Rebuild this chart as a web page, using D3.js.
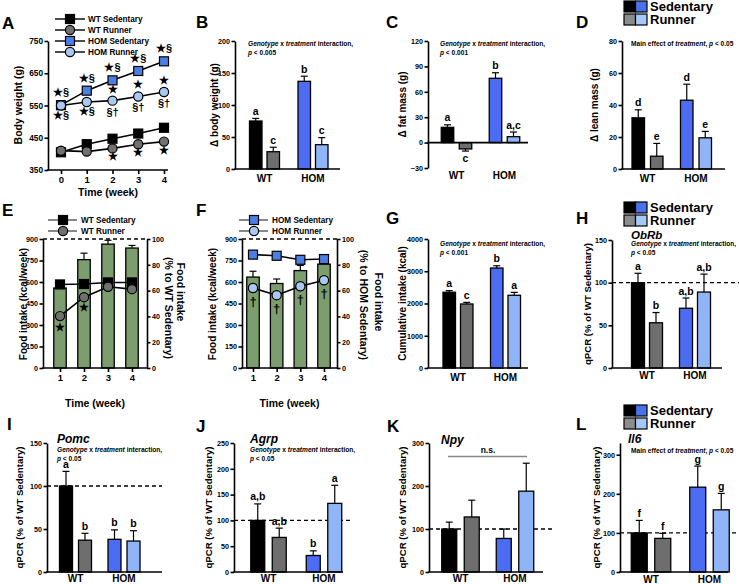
<!DOCTYPE html>
<html><head><meta charset="utf-8">
<script src="https://cdn.jsdelivr.net/npm/d3@7"></script>
<style>
body{margin:0;background:#fff}
svg{display:block;font-family:"Liberation Sans",Arial,Helvetica,sans-serif;font-weight:bold}
</style></head><body>
<svg id="c" width="739" height="584"></svg>
<script>
// ---------------- DATA ----------------
const weeksA = [0,1,2,3,4];
const bwWTSed  = [405,430,447,463,481];
const bwWTRun  = [410,407,417,430,438];
const bwHOMSed = [551,596,628,657,687];
const bwHOMRun = [550,561,565,578,592];
const bwHOMRunErr = [6,9,9,9,10];
const seriesNamesA = ["WT Sedentary","WT Runner","HOM Sedentary","HOM Runner"];

const groups = ["WT","HOM"];
const treatments = ["Sedentary","Runner"];

const dBodyWeight = [75,27,137,38];   const dBodyWeightErr = [4,7,8,11];
const dBodyWeightLetters = ["a","c","b","c"];
const dFatMass = [18,-7.5,76,7];      const dFatMassErr = [3,2.5,6.5,5.5];
const dFatMassLetters = ["a","c","b","a,c"];
const dLeanMass = [32,8,43,19.5];     const dLeanMassErr = [5,8,10,4];
const dLeanMassLetters = ["d","e","d","e"];

const weeksE = ["1","2","3","4"];
const fiWTPct = [62,84,96,93];        const fiWTPctErr = [1,5,3,2];
const fiWTSed = [583,586,597,597];
const fiWTRun = [362,494,567,550];    const fiWTRunErr = [12,12,8,8];
const fiHOMPct = [70.5,65.5,75.5,80.5]; const fiHOMPctErr = [4.5,3.5,4,1];
const fiHOMSed = [791,783,755,760];
const fiHOMRun = [558,508,570,612];   const fiHOMRunErr = [25,20,22,22];

const cumIntake = [2350,1985,3100,2255]; const cumIntakeErr = [50,50,70,90];
const cumIntakeLetters = ["a","c","b","a"];
const qObRb = [100,53,70,89];  const qObRbErr = [11,12,12,21];
const qObRbLetters = ["a","b","a,b","a,b"];
const qPomc = [100,37,38,36];  const qPomcErr = [17,8,11,12];
const qPomcLetters = ["a","b","b","b"];
const qAgrp = [100,67,32,133]; const qAgrpErr = [32,18,9,35];
const qAgrpLetters = ["a,b","a,b","b","a"];
const qNpy = [100,128,78,188]; const qNpyErr = [16,39,22,65];
const qIl6 = [100,86,217,159]; const qIl6Err = [32,13,54,42];
const qIl6Letters = ["f","f","g","g"];

// ---------------- STYLE ----------------
const COL = {grey:"#6e6e6e", blue:"#4c6cf3", lblue:"#8fb5f7", green:"#7c9e6e",
  legGrey:"#8c8c8c", legBlue:"#4a72e8", legLBlue:"#a6c8f7",
  aGrey:"#707070", aBlue:"#4d7ee6", aLBlue:"#a9c9f2"};
const barFill = ["#000", COL.grey, COL.blue, COL.lblue];

const svg = d3.select("#c");

function T(x,y,s,size,anchor,opt){
  opt = opt||{};
  const t = svg.append("text").attr("x",x).attr("y",y).attr("font-size",size)
    .attr("text-anchor",anchor||"middle").attr("fill",opt.fill||"#000");
  if(opt.rot!=null) t.attr("transform",`rotate(${opt.rot},${x},${y})`);
  if(opt.italic) t.attr("font-style","italic");
  if(opt.db) t.attr("dominant-baseline",opt.db);
  t.text(s);
  return t;
}
function panelLetter(x,y,s){ T(x,y,s,17,"start"); }
function note(x,y,lines){
  lines.forEach((ln,i)=>{
    const t = svg.append("text").attr("x",x).attr("y",y+i*9).attr("font-size",6.6).attr("text-anchor","start");
    ln.forEach(p=>{ t.append("tspan").attr("font-style",p[1]?"italic":"normal").text(p[0]); });
  });
}
function styleAxis(g,fs){
  g.attr("font-family",null).attr("font-size",null);
  g.selectAll("path,line").attr("stroke","#000").attr("stroke-width",1.6);
  g.selectAll("text").attr("font-size",fs||7.2).attr("font-weight","bold").attr("fill","#000");
}
function yAxisLeft(x,y,ticks,fs){
  const g = svg.append("g").attr("transform",`translate(${x},0)`)
    .call(d3.axisLeft(y).tickValues(ticks).tickFormat(d3.format("d")).tickSize(3.5).tickSizeOuter(0).tickPadding(1.5));
  styleAxis(g,fs); return g;
}
function hline(x1,x2,y,opt){
  opt=opt||{};
  const l = svg.append("line").attr("x1",x1).attr("x2",x2).attr("y1",y).attr("y2",y)
    .attr("stroke",opt.stroke||"#000").attr("stroke-width",opt.w||1.6);
  if(opt.dash) l.attr("stroke-dasharray",opt.dash);
  return l;
}
function legendSwatch(x,y){
  const rows=[["#000",COL.legBlue,"Sedentary"],[COL.legGrey,COL.legLBlue,"Runner"]];
  rows.forEach((r,i)=>{
    const yy=y+i*13;
    svg.append("rect").attr("x",x).attr("y",yy).attr("width",11.5).attr("height",11).attr("fill",r[0]).attr("stroke","#000").attr("stroke-width",1.2);
    svg.append("rect").attr("x",x+11.5).attr("y",yy).attr("width",11.5).attr("height",11).attr("fill",r[1]).attr("stroke","#000").attr("stroke-width",1.2);
    T(x+26,yy+10,r[2],13,"start");
  });
}
function marker(cx,cy,shape,fill){
  if(shape==="sq") svg.append("rect").attr("x",cx-4.5).attr("y",cy-4.5).attr("width",9).attr("height",9).attr("fill",fill).attr("stroke","#000").attr("stroke-width",1.2);
  else svg.append("circle").attr("cx",cx).attr("cy",cy).attr("r",4.6).attr("fill",fill).attr("stroke","#000").attr("stroke-width",1.2);
}

function barPanel(cfg){
  const y = d3.scaleLinear().domain(cfg.dom).range(cfg.range);
  const x0 = d3.scaleBand().domain(groups).range(cfg.gRange).padding(0);
  const bw = x0.bandwidth();
  const x1 = d3.scaleBand().domain(treatments)
    .range([bw/2-(cfg.d+cfg.barW)/2, bw/2+(cfg.d+cfg.barW)/2])
    .paddingInner(1-cfg.barW/cfg.d).paddingOuter(0);
  const rows=[];
  groups.forEach((g,gi)=>treatments.forEach((t,ti)=>{
    const i=gi*2+ti;
    rows.push({g,t,i,v:cfg.vals[i],e:cfg.errs?cfg.errs[i]:0,l:cfg.letters?cfg.letters[i]:null});
  }));
  const base = y(0);
  if(cfg.dash!=null) hline(cfg.axisX,cfg.dashEnd,y(cfg.dash),{dash:"4,3",w:1.3});
  rows.forEach(r=>{
    const xl = x0(r.g)+x1(r.t), cx = xl+x1.bandwidth()/2;
    const yv = y(r.v);
    svg.append("rect").attr("x",xl).attr("y",Math.min(yv,base)).attr("width",x1.bandwidth())
      .attr("height",Math.abs(base-yv)).attr("fill",barFill[r.i]).attr("stroke","#000").attr("stroke-width",1.3);
    const sgn = r.v>=0?1:-1;
    const ye = y(r.v+sgn*r.e);
    svg.append("line").attr("x1",cx).attr("x2",cx).attr("y1",yv).attr("y2",ye).attr("stroke","#000").attr("stroke-width",1.2);
    svg.append("line").attr("x1",cx-3.5).attr("x2",cx+3.5).attr("y1",ye).attr("y2",ye).attr("stroke","#000").attr("stroke-width",1.2);
    if(r.l){
      if(sgn>0) T(cx,ye-3.5,r.l,10.5,"middle");
      else T(cx,ye+11,r.l,10.5,"middle");
    }
  });
  yAxisLeft(cfg.axisX,y,cfg.ticks);
  hline(cfg.axisX-0.8,cfg.axisEnd,base);
  groups.forEach(g=>T(x0(g)+bw/2,cfg.labY,g,10,"middle"));
  T(cfg.titleX,(cfg.range[0]+cfg.range[1])/2,cfg.yTitle,cfg.titleSize||10,"middle",{rot:-90,db:"middle"});
  return {y,x0,x1};
}

// ---------------- PANEL A ----------------
(function(){
  const x = d3.scaleLinear().domain([0,4]).range([61,164]);
  const y = d3.scaleLinear().domain([350,750]).range([170,41]);
  yAxisLeft(48,y,[350,450,550,650,750],8.3);
  const gx = svg.append("g").attr("transform","translate(0,170)")
    .call(d3.axisBottom(x).tickValues(weeksA).tickFormat(d3.format("d")).tickSize(4).tickSizeOuter(0).tickPadding(2));
  styleAxis(gx,9.5); gx.select(".domain").remove();
  hline(47.2,168,170);
  T(108,196,"Time (week)",10.5,"middle");
  T(19,105,"Body weight (g)",10.5,"middle",{rot:-90,db:"middle"});
  const line = d3.line().x((d,i)=>x(weeksA[i])).y(d=>y(d));
  const series = [
    {v:bwWTSed,shape:"sq",fill:"#000"},
    {v:bwWTRun,shape:"ci",fill:COL.aGrey},
    {v:bwHOMSed,shape:"sq",fill:COL.aBlue},
    {v:bwHOMRun,shape:"ci",fill:COL.aLBlue,err:bwHOMRunErr}
  ];
  series.forEach(s=>svg.append("path").attr("d",line(s.v)).attr("fill","none").attr("stroke","#000").attr("stroke-width",1.6));
  series.forEach(s=>{
    s.v.forEach((v,i)=>{
      const cx=x(weeksA[i]), cy=y(v);
      if(s.err){
        svg.append("line").attr("x1",cx).attr("x2",cx).attr("y1",y(v-s.err[i])).attr("y2",y(v+s.err[i])).attr("stroke","#000").attr("stroke-width",1.2);
        [v-s.err[i],v+s.err[i]].forEach(e=>svg.append("line").attr("x1",cx-3.5).attr("x2",cx+3.5).attr("y1",y(e)).attr("y2",y(e)).attr("stroke","#000").attr("stroke-width",1.2));
      }
      marker(cx,cy,s.shape,s.fill);
    });
  });
  series.forEach((s,i)=>{
    const yy=19+i*11;
    hline(55,85,yy,{w:1.4});
    marker(70,yy,s.shape,s.fill);
    T(88,yy+3,seriesNamesA[i],8.2,"start");
  });
  const sym=(w,v,dy,s)=>T(x(w),y(v)+dy,s,11,"middle",{db:"middle"});
  [0,1,2,3,4].forEach(i=>sym(i,bwHOMSed[i],-12,"★§"));
  sym(0,bwHOMRun[0],+11,"★§");
  sym(1,bwHOMRun[1],+10,"★§");
  [2,3,4].forEach(i=>{sym(i,bwHOMRun[i],-11,"★"); sym(i,bwHOMRun[i],+12,"§†"); sym(i,bwWTRun[i],+9,"★");});
  panelLetter(2,29,"A");
})();

// ---------------- PANEL B, C, D ----------------
barPanel({vals:dBodyWeight,errs:dBodyWeightErr,letters:dBodyWeightLetters,dom:[0,200],range:[169,41],ticks:[0,50,100,150,200],
  axisX:235,axisEnd:340,gRange:[240.25,337.25],d:17.5,barW:12.5,labY:182,titleX:215,yTitle:"Δ body weight (g)"});
note(248,46,[[["Genotype",1],[" x ",0],["treatment",1],[" interaction,",0]],[["p",1],[" < 0.005",0]]]);
panelLetter(196,28,"B");

barPanel({vals:dFatMass,errs:dFatMassErr,letters:dFatMassLetters,dom:[-30,120],range:[168,41],ticks:[-30,0,30,60,90,120],
  axisX:428,axisEnd:528,gRange:[432.5,528.5],d:18,barW:12.5,labY:179,titleX:403,yTitle:"Δ fat mass (g)"});
note(440,46,[[["Genotype",1],[" x ",0],["treatment",1],[" interaction,",0]],[["p",1],[" < 0.001",0]]]);
panelLetter(386,28,"C");

barPanel({vals:dLeanMass,errs:dLeanMassErr,letters:dLeanMassLetters,dom:[0,80],range:[169,41],ticks:[0,20,40,60,80],
  axisX:622,axisEnd:725,gRange:[623.25,720.25],d:18.5,barW:12.5,labY:182,titleX:595,yTitle:"Δ lean mass (g)"});
note(631,46,[[["Main effect of ",0],["treatment",1],[", ",0],["p",1],[" < 0.05",0]]]);
panelLetter(576,28,"D");
legendSwatch(624,1);

// ---------------- PANEL E, F ----------------
function intakePanel(cfg){
  const x = d3.scalePoint().domain(weeksE).range(cfg.xr);
  const yL = d3.scaleLinear().domain([0,900]).range([368,239]);
  const yR = d3.scaleLinear().domain([0,100]).range([368,239]);
  const bw=12.5;
  weeksE.forEach((w,i)=>{
    const cx=x(w), v=cfg.pct[i], e=cfg.pctErr[i];
    svg.append("rect").attr("x",cx-bw/2).attr("y",yR(v)).attr("width",bw).attr("height",yR(0)-yR(v)).attr("fill",COL.green).attr("stroke","#000").attr("stroke-width",1.3);
    svg.append("line").attr("x1",cx).attr("x2",cx).attr("y1",yR(v)).attr("y2",yR(v+e)).attr("stroke","#000").attr("stroke-width",1.2);
    svg.append("line").attr("x1",cx-3.5).attr("x2",cx+3.5).attr("y1",yR(v+e)).attr("y2",yR(v+e)).attr("stroke","#000").attr("stroke-width",1.2);
  });
  hline(cfg.left,cfg.right,239,{dash:"4,3",w:1.4});
  yAxisLeft(cfg.left,yL,[0,150,300,450,600,750,900],7.2);
  const gr = svg.append("g").attr("transform",`translate(${cfg.right},0)`)
    .call(d3.axisRight(yR).tickValues([0,20,40,60,80,100]).tickSize(3.5).tickSizeOuter(0).tickPadding(1.5));
  styleAxis(gr,7.2);
  hline(cfg.left-0.8,cfg.right+0.8,368);
  const gx = svg.append("g").attr("transform","translate(0,368)")
    .call(d3.axisBottom(x).tickSize(4).tickSizeOuter(0).tickPadding(2));
  styleAxis(gx,9.5); gx.select(".domain").remove();
  T((cfg.left+cfg.right)/2,407,"Time (week)",10.5,"middle");
  const line = d3.line().x((d,i)=>x(weeksE[i])).y(d=>yL(d));
  svg.append("path").attr("d",line(cfg.sed)).attr("fill","none").attr("stroke","#000").attr("stroke-width",1.6);
  svg.append("path").attr("d",line(cfg.run)).attr("fill","none").attr("stroke","#000").attr("stroke-width",1.6);
  cfg.sed.forEach((v,i)=>marker(x(weeksE[i]),yL(v),"sq",cfg.sedFill));
  cfg.run.forEach((v,i)=>{
    const cx=x(weeksE[i]);
    const e=cfg.runErr[i];
    svg.append("line").attr("x1",cx).attr("x2",cx).attr("y1",yL(v-e)).attr("y2",yL(v+e)).attr("stroke","#000").attr("stroke-width",1.2);
    [v-e,v+e].forEach(q=>svg.append("line").attr("x1",cx-3.5).attr("x2",cx+3.5).attr("y1",yL(q)).attr("y2",yL(q)).attr("stroke","#000").attr("stroke-width",1.2));
    marker(cx,yL(v),"ci",cfg.runFill);
  });
  cfg.marks.forEach(m=>T(x(weeksE[m[0]]),yL(cfg.run[m[0]])+m[1],m[2],m[3],"middle",{db:"middle"}));
  [[cfg.names[0],"sq",cfg.sedFill],[cfg.names[1],"ci",cfg.runFill]].forEach((r,i)=>{
    const yy=220+i*11;
    hline(cfg.legX-15,cfg.legX+14,yy,{w:1.4,stroke:"#555"});
    marker(cfg.legX,yy,r[1],r[2]);
    T(cfg.legX+18,yy+3,r[0],8.2,"start");
  });
  T(cfg.leftTitleX,304,"Food intake (kcal/week)",10,"middle",{rot:-90,db:"middle"});
  T(cfg.rtX1,cfg.rtY1,"Food intake",10.5,"middle",{rot:90,db:"middle"});
  T(cfg.rtX2,cfg.rtY2,cfg.rtitle,10.5,"middle",{rot:90,db:"middle"});
}
intakePanel({xr:[60,132],left:43,right:147,pct:fiWTPct,pctErr:fiWTPctErr,sed:fiWTSed,run:fiWTRun,runErr:fiWTRunErr,
  sedFill:"#000",runFill:COL.aGrey,marks:[[0,12,"★",11],[1,11,"★",11]],names:["WT Sedentary","WT Runner"],legX:63,
  leftTitleX:24,rtX1:180,rtY1:292,rtX2:168,rtY2:308,rtitle:"(% to WT Sedentary)"});
panelLetter(2,216,"E");
intakePanel({xr:[253,324],left:242,right:337,pct:fiHOMPct,pctErr:fiHOMPctErr,sed:fiHOMSed,run:fiHOMRun,runErr:fiHOMRunErr,
  sedFill:COL.aBlue,runFill:COL.aLBlue,marks:[[0,15,"†",13],[1,14,"†",13],[2,14,"†",13],[3,14,"†",13]],names:["HOM Sedentary","HOM Runner"],legX:254,
  leftTitleX:213,rtX1:378,rtY1:302,rtX2:363,rtY2:305,rtitle:"(% to HOM Sedentary)"});
panelLetter(196,216,"F");

// ---------------- PANEL G, H ----------------
barPanel({vals:cumIntake,errs:cumIntakeErr,letters:cumIntakeLetters,dom:[0,4000],range:[368,239],ticks:[0,1000,2000,3000,4000],
  axisX:428,axisEnd:528,gRange:[434.25,529.25],d:17.5,barW:12.5,labY:381,titleX:403,yTitle:"Cumulative intake (kcal)"});
note(440,246,[[["Genotype",1],[" x ",0],["treatment",1],[" interaction,",0]],[["p",1],[" < 0.001",0]]]);
panelLetter(386,224,"G");

barPanel({vals:qObRb,errs:qObRbErr,letters:qObRbLetters,dom:[0,150],range:[368,240],ticks:[0,50,100,150],
  axisX:612,axisEnd:722,gRange:[623,719],d:18,barW:13,labY:379,titleX:588,yTitle:"qPCR (% of WT Sedentary)",titleSize:9.6,dash:100,dashEnd:739});
T(631,239,"ObRb",11.5,"start",{italic:1});
note(631,246,[[["Genotype",1],[" x ",0],["treatment",1],[" interaction,",0]],[["p",1],[" < 0.05",0]]]);
panelLetter(576,224,"H");
legendSwatch(624,202);

// ---------------- PANEL I, J, K, L ----------------
barPanel({vals:qPomc,errs:qPomcErr,letters:qPomcLetters,dom:[0,150],range:[572,443],ticks:[0,50,100,150],
  axisX:47,axisEnd:162,gRange:[51.25,148.25],d:19,barW:13,labY:582,titleX:20,yTitle:"qPCR (% of WT Sedentary)",titleSize:9.6,dash:100,dashEnd:162});
T(57,443,"Pomc",12,"start",{italic:1});
note(57,452,[[["Genotype",1],[" x ",0],["treatment",1],[" interaction,",0]],[["p",1],[" < 0.05",0]]]);
panelLetter(7,430,"I");

barPanel({vals:qAgrp,errs:qAgrpErr,letters:qAgrpLetters,dom:[0,250],range:[572,443],ticks:[0,50,100,150,200,250],
  axisX:234,axisEnd:343,gRange:[240.75,351.75],d:21.5,barW:14,labY:582,titleX:209,yTitle:"qPCR (% of WT Sedentary)",titleSize:9.6,dash:100,dashEnd:353});
T(250,443,"Agrp",12,"start",{italic:1});
note(250,452,[[["Genotype",1],[" x ",0],["treatment",1],[" interaction,",0]],[["p",1],[" < 0.05",0]]]);
panelLetter(196,432,"J");

barPanel({vals:qNpy,errs:qNpyErr,letters:null,dom:[0,300],range:[572,443],ticks:[0,100,200,300],
  axisX:429,axisEnd:543,gRange:[433.25,542.25],d:22.5,barW:15,labY:582,titleX:403,yTitle:"qPCR (% of WT Sedentary)",titleSize:9.6,dash:100,dashEnd:553});
T(441,444,"Npy",12,"start",{italic:1});
hline(448,527,456.5,{stroke:"#888",w:1.3});
T(488,453,"n.s.",8.5,"middle");
panelLetter(387,432,"K");

barPanel({vals:qIl6,errs:qIl6Err,letters:qIl6Letters,dom:[0,330],range:[572,443],ticks:[0,100,200,300],
  axisX:620,axisEnd:728,gRange:[621.75,738.75],d:23.5,barW:16,labY:582.5,titleX:597,yTitle:"qPCR (% of WT Sedentary)",titleSize:9.6,dash:100,dashEnd:739});
T(628,443,"Il6",12,"start",{italic:1});
note(631,453,[[["Main effect of ",0],["treatment",1],[", ",0],["p",1],[" < 0.05",0]]]);
panelLetter(576,430,"L");
legendSwatch(624,405);
</script>
</body></html>
